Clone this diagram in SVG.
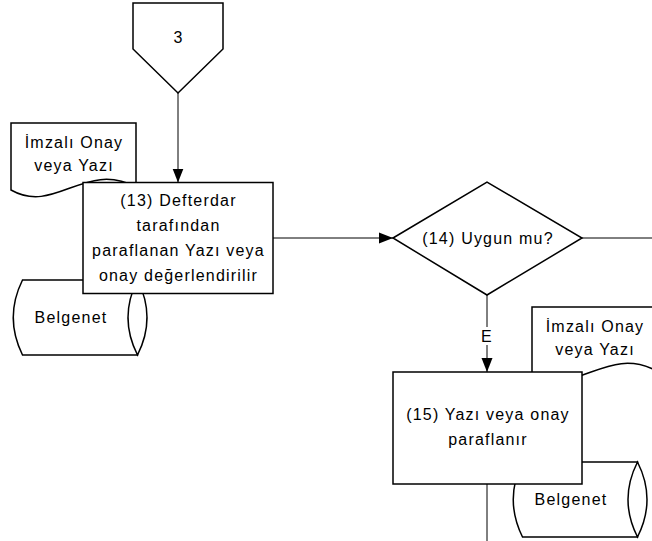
<svg xmlns="http://www.w3.org/2000/svg" width="652" height="541" viewBox="0 0 652 541">
<style>
.shape{fill:#fff;stroke:#000;stroke-width:1.5;stroke-linejoin:miter}
.conn{fill:none;stroke:#000;stroke-width:1}
text{font-family:"Liberation Sans",Arial,sans-serif;font-size:16px;fill:#000;text-anchor:middle;letter-spacing:1.2px}
</style>
<defs>
<marker id="arr" markerUnits="userSpaceOnUse" markerWidth="14" markerHeight="12" refX="14" refY="6" orient="auto">
<path d="M0,0.5 L14,6 L0,11.5 Z" fill="#000"/>
</marker>
</defs>
<g id="connectors">
<line class="conn" x1="178" y1="93" x2="178" y2="182.5" marker-end="url(#arr)"/>
<line class="conn" x1="273" y1="238" x2="393" y2="238" marker-end="url(#arr)"/>
<line class="conn" x1="582" y1="238" x2="652" y2="238"/>
<line class="conn" x1="487" y1="295" x2="487" y2="372" marker-end="url(#arr)"/>
<rect x="480" y="327" width="14" height="18" fill="#fff"/>
<text x="487" y="342">E</text>
<line class="conn" x1="487" y1="484" x2="487" y2="541"/>
</g>
<g id="offpage3">
<path class="shape" d="M133,3 H223 V49 L178,93 L133,49 Z"/>
<text x="178.5" y="43">3</text>
</g>
<g id="doc-left">
<path class="shape" d="M11,123 H136 V187 C85,160 55,215 11,190 Z"/>
<text x="74" y="148">İmzalı Onay</text>
<text x="74" y="171">veya Yazı</text>
</g>
<g id="db-left">
<path class="shape" d="M22.5,280 H137.5 V355 H22.5 Q4,317.5 22.5,280 Z"/>
<path class="shape" d="M137.5,280 Q156.5,317.5 137.5,355 Q118.5,317.5 137.5,280 Z"/>
<text x="71" y="323">Belgenet</text>
</g>
<g id="step13">
<rect class="shape" x="83" y="182.5" width="190" height="111"/>
<text x="178.5" y="206">(13) Defterdar</text>
<text x="178.5" y="231">tarafından</text>
<text x="178.5" y="256">paraflanan Yazı veya</text>
<text x="178.5" y="281">onay değerlendirilir</text>
</g>
<g id="decision14">
<path class="shape" d="M393,238 L487,182 L582,238 L487,295 Z"/>
<text x="488" y="244">(14) Uygun mu?</text>
</g>
<g id="doc-right">
<path class="shape" d="M532,307 H657 V371 C606,344 576,399 532,374 Z"/>
<text x="595" y="332">İmzalı Onay</text>
<text x="595" y="355">veya Yazı</text>
</g>
<g id="db-right">
<path class="shape" d="M522.5,462 H637.5 V537 H522.5 Q504,499.5 522.5,462 Z"/>
<path class="shape" d="M637.5,462 Q656.5,499.5 637.5,537 Q618.5,499.5 637.5,462 Z"/>
<text x="571" y="505">Belgenet</text>
</g>
<g id="step15">
<rect class="shape" x="393" y="372" width="189" height="112"/>
<text x="488" y="420">(15) Yazı veya onay</text>
<text x="488" y="445">paraflanır</text>
</g>
</svg>
